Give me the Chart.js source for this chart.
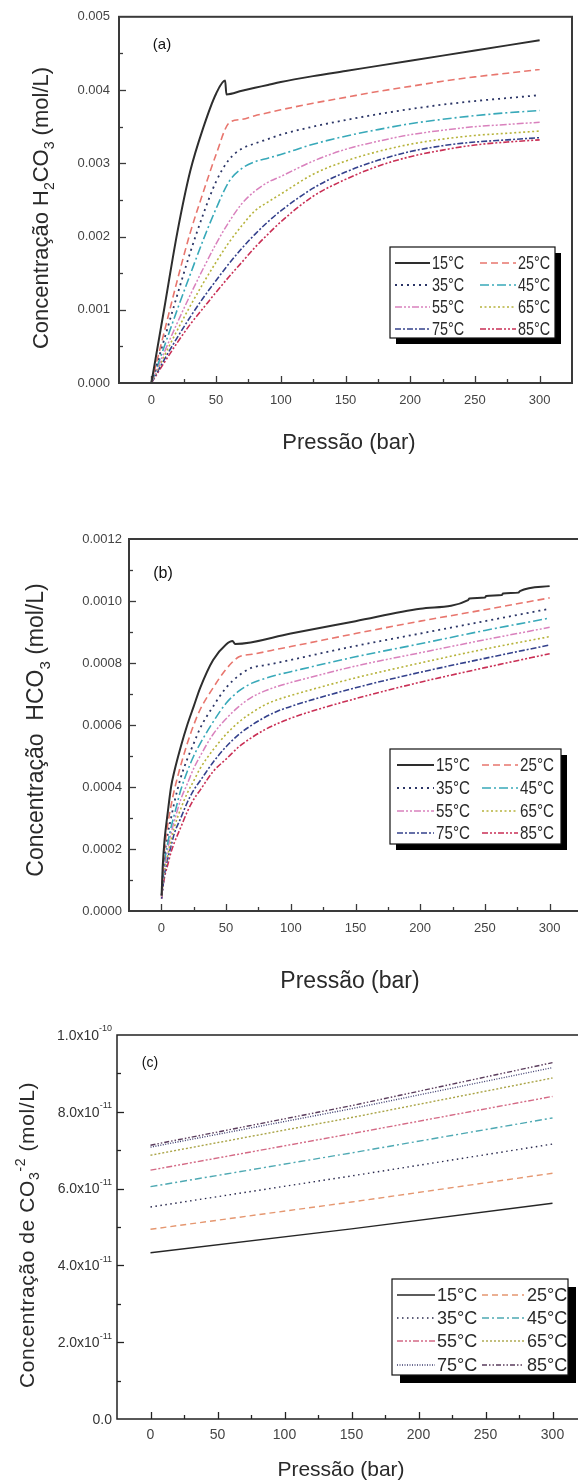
<!DOCTYPE html>
<html>
<head>
<meta charset="utf-8">
<script src="https://cdn.jsdelivr.net/npm/chart.js@4.4.1/dist/chart.umd.min.js"></script>
<style>
  html, body { margin: 0; padding: 0; background: #fff; }
  body { width: 578px; height: 1482px; overflow: hidden; position: relative; }
  canvas { position: absolute; left: 0; }
</style>
</head>
<body>
<canvas id="chartA" width="578" height="470" style="top:0"></canvas>
<canvas id="chartB" width="600" height="530" style="top:470px"></canvas>
<canvas id="chartC" width="600" height="482" style="top:1000px"></canvas>
<script>
// legend labels
const temps = ['15°C', '25°C', '35°C', '45°C', '55°C', '65°C', '75°C', '85°C'];

// x tick values shared by the three panels
const xTicks = [0, 50, 100, 150, 200, 250, 300];

// (a) H2CO3 (mol/L) vs pressure (bar)
const pressA15 = [0, 10, 20, 30, 40, 50, 57, 58, 70, 80, 90, 100, 125, 150, 175, 200, 225, 250, 275, 300];
const pressA = [0, 10, 20, 30, 40, 50, 60, 70, 80, 90, 100, 125, 150, 175, 200, 225, 250, 275, 300];
const h2co3_15 = [0, 0.00102, 0.00205, 0.00289, 0.00348, 0.00395, 0.00413, 0.00394, 0.00399, 0.00403, 0.00407, 0.00411, 0.00419, 0.00426, 0.00433, 0.00440, 0.00447, 0.00454, 0.00461, 0.00468];
const h2co3_25 = [0, 0.00070, 0.00140, 0.00205, 0.00260, 0.00312, 0.00355, 0.00360, 0.00365, 0.00369, 0.00373, 0.00382, 0.00390, 0.00398, 0.00405, 0.00412, 0.00418, 0.00423, 0.00428];
const h2co3_35 = [0, 0.00060, 0.00120, 0.00178, 0.00230, 0.00275, 0.00305, 0.00320, 0.00327, 0.00333, 0.00339, 0.00350, 0.00359, 0.00367, 0.00374, 0.00380, 0.00385, 0.00389, 0.00393];
const h2co3_45 = [0, 0.00050, 0.00100, 0.00148, 0.00195, 0.00238, 0.00275, 0.00293, 0.00302, 0.00307, 0.00312, 0.00326, 0.00337, 0.00346, 0.00354, 0.00360, 0.00365, 0.00369, 0.00372];
const h2co3_55 = [0, 0.00042, 0.00082, 0.00120, 0.00156, 0.00190, 0.00220, 0.00245, 0.00262, 0.00274, 0.00282, 0.00303, 0.00319, 0.00330, 0.00339, 0.00345, 0.00350, 0.00353, 0.00356];
const h2co3_65 = [0, 0.00037, 0.00072, 0.00105, 0.00136, 0.00165, 0.00192, 0.00215, 0.00235, 0.00247, 0.00258, 0.00285, 0.00303, 0.00316, 0.00326, 0.00333, 0.00338, 0.00341, 0.00344];
const h2co3_75 = [0, 0.00032, 0.00062, 0.00090, 0.00116, 0.00140, 0.00163, 0.00184, 0.00203, 0.00220, 0.00235, 0.00266, 0.00288, 0.00304, 0.00316, 0.00324, 0.00329, 0.00332, 0.00335];
const h2co3_85 = [0, 0.00028, 0.00055, 0.00080, 0.00102, 0.00124, 0.00145, 0.00165, 0.00185, 0.00203, 0.00220, 0.00255, 0.00278, 0.00296, 0.00309, 0.00318, 0.00325, 0.00329, 0.00332];

// (b) HCO3 (mol/L) vs pressure (bar)
const pressB15 = [0.2, 1, 2.5, 5, 7.5, 10, 15, 20, 25, 30, 40, 50, 55, 57, 100, 150, 200, 237, 238, 250, 251, 263, 264, 276, 277, 300];
const pressB = [0.2, 1, 2.5, 5, 7.5, 10, 15, 20, 25, 30, 40, 50, 60, 70, 80, 90, 100, 150, 200, 250, 300];
const hco3_15 = [0.00005, 0.00014, 0.00023, 0.00032, 0.00040, 0.00045, 0.00053, 0.00060, 0.00066, 0.00072, 0.00081, 0.00086, 0.000871, 0.000861, 0.000895, 0.000935, 0.000975, 0.001003, 0.001008, 0.001011, 0.001016, 0.001019, 0.001024, 0.001027, 0.001032, 0.001048];
const hco3_25 = [0.00005, 0.00012, 0.00020, 0.00028, 0.00034, 0.00039, 0.00047, 0.00054, 0.00060, 0.00065, 0.00072, 0.00078, 0.00082, 0.000828, 0.000836, 0.000845, 0.000853, 0.000895, 0.000935, 0.000972, 0.001010];
const hco3_35 = [0.00005, 0.00011, 0.00018, 0.00025, 0.00030, 0.00035, 0.00043, 0.00049, 0.00054, 0.00059, 0.00066, 0.00072, 0.00076, 0.000785, 0.000793, 0.000801, 0.000810, 0.000855, 0.000895, 0.000935, 0.000975];
const hco3_45 = [0.00005, 0.00010, 0.00016, 0.00022, 0.00027, 0.00031, 0.00039, 0.00045, 0.00050, 0.00054, 0.00061, 0.00067, 0.00071, 0.000735, 0.000750, 0.000762, 0.000772, 0.000820, 0.000862, 0.000905, 0.000945];
const hco3_55 = [0.000045, 0.00009, 0.00014, 0.00020, 0.00025, 0.00029, 0.00036, 0.00041, 0.00046, 0.00050, 0.00057, 0.00062, 0.00066, 0.00069, 0.00071, 0.000725, 0.000737, 0.00079, 0.000833, 0.000875, 0.000915];
const hco3_65 = [0.000045, 0.00008, 0.00013, 0.00018, 0.00023, 0.00027, 0.00033, 0.00038, 0.00042, 0.00046, 0.00052, 0.00057, 0.00061, 0.00064, 0.000665, 0.000682, 0.000695, 0.000752, 0.00080, 0.000845, 0.000885];
const hco3_75 = [0.00004, 0.00007, 0.00012, 0.00017, 0.00021, 0.00025, 0.00030, 0.00035, 0.00039, 0.00042, 0.00048, 0.00053, 0.00057, 0.00060, 0.000625, 0.000645, 0.00066, 0.00072, 0.00077, 0.000815, 0.000858];
const hco3_85 = [0.00004, 0.00007, 0.00011, 0.00015, 0.00019, 0.00022, 0.00027, 0.00032, 0.00036, 0.00039, 0.00045, 0.00049, 0.00053, 0.00056, 0.000585, 0.000605, 0.000622, 0.000685, 0.000738, 0.000785, 0.00083];

// (c) CO3-2 (mol/L) vs pressure (bar)
const pressC = [0, 150, 300];
const co3_15 = [4.33e-11, 4.95e-11, 5.62e-11];
const co3_25 = [4.94e-11, 5.65e-11, 6.40e-11];
const co3_35 = [5.52e-11, 6.33e-11, 7.16e-11];
const co3_45 = [6.05e-11, 6.93e-11, 7.84e-11];
const co3_55 = [6.48e-11, 7.43e-11, 8.40e-11];
const co3_65 = [6.87e-11, 7.85e-11, 8.88e-11];
const co3_75 = [7.08e-11, 8.08e-11, 9.15e-11];
const co3_85 = [7.13e-11, 8.16e-11, 9.28e-11];

// y tick values for (c)
const yTicksC = [0, 2e-11, 4e-11, 6e-11, 8e-11, 1e-10];
const yTickTextC = [['0.0', ''], ['2.0x10', '-11'], ['4.0x10', '-11'], ['6.0x10', '-11'], ['8.0x10', '-11'], ['1.0x10', '-10']];

// line styles
const colorsAB = ['#2e2e2e', '#e8766e', '#2b3566', '#38a9b9', '#d981bd', '#b7b33c', '#34418c', '#c92f55'];
const dashesAB = [[], [7, 4], [2, 4], [9, 3, 2, 3], [7, 2, 2, 2, 2, 2], [2, 2.5], [6, 2, 2, 2], [6, 2, 2, 2, 2, 2]];
const widthsAB = [2, 1.6, 1.8, 1.6, 1.5, 1.6, 1.6, 1.6];
const colorsC = ['#262626', '#e59770', '#2a2a4e', '#4ea9b3', '#d46a86', '#aaa447', '#3c3c6e', '#5a3c5c'];
const dashesC = [[], [6, 4], [1.5, 3.5], [7, 3, 2, 3], [6, 2, 2, 2, 2, 2], [2, 2], [1, 1.5], [5, 2, 1.5, 2, 1.5, 2]];

const FONT = "'Liberation Sans', Arial, sans-serif";

function series(xs, ys) {
  return xs.map((x, i) => ({ x: x, y: ys[i] }));
}

function buildSets(pairs, colors, dashes, widths, smooth) {
  return pairs.map((p, i) => ({
    label: temps[i],
    data: series(p[0], p[1]),
    borderColor: colors[i],
    borderDash: dashes[i],
    borderWidth: widths ? widths[i] : 1.4,
    pointRadius: 0,
    fill: false,
    cubicInterpolationMode: smooth ? 'monotone' : 'default',
    tension: 0
  }));
}

function drawRich(ctx, parts, cx, cy, size, rot, spacing) {
  ctx.save();
  ctx.translate(cx, cy);
  if (rot) ctx.rotate(-Math.PI / 2);
  ctx.textBaseline = 'alphabetic';
  ctx.textAlign = 'left';
  if (spacing) ctx.letterSpacing = spacing + 'px';
  const fontFor = p => (p.sub || p.sup ? Math.round(size * 0.65) : size) + 'px ' + FONT;
  let w = 0;
  parts.forEach(p => { ctx.font = fontFor(p); w += ctx.measureText(p.t).width; });
  let x = -w / 2;
  const base = size * 0.36;
  parts.forEach(p => {
    ctx.font = fontFor(p);
    const dy = p.sub ? size * 0.28 : (p.sup ? -size * 0.42 : 0);
    ctx.fillText(p.t, x, base + dy);
    x += ctx.measureText(p.t).width;
  });
  ctx.restore();
}

function deco(cfg) {
  return {
    id: 'deco',
    afterDraw(chart) {
      const ctx = chart.ctx, a = chart.chartArea, xs = chart.scales.x, ys = chart.scales.y;
      ctx.save();
      ctx.strokeStyle = cfg.frameColor;
      ctx.lineWidth = cfg.frameWidth;
      ctx.strokeRect(a.left, a.top, a.right - a.left, a.bottom - a.top);

      // inward ticks
      ctx.lineWidth = 1.3;
      for (let v = 0; v <= 300; v += 25) {
        const px = Math.round(xs.getPixelForValue(v)) + 0.5;
        const len = v % 50 === 0 ? 7 : 4;
        ctx.beginPath(); ctx.moveTo(px, a.bottom); ctx.lineTo(px, a.bottom - len); ctx.stroke();
      }
      const n = Math.round(ys.max / cfg.yMinor);
      for (let i = 1; i < n; i++) {
        const py = Math.round(ys.getPixelForValue(i * cfg.yMinor)) + 0.5;
        const len = i % 2 === 0 ? 7 : 4;
        ctx.beginPath(); ctx.moveTo(a.left, py); ctx.lineTo(a.left + len, py); ctx.stroke();
      }

      // hand-drawn y labels with superscript (chart c)
      if (cfg.yLabels) {
        ctx.fillStyle = '#333';
        ctx.textBaseline = 'middle';
        cfg.yLabels.values.forEach((v, i) => {
          const py = ys.getPixelForValue(v);
          const [main, sup] = cfg.yLabels.text[i];
          ctx.font = '14px ' + FONT;
          const w1 = ctx.measureText(main).width;
          ctx.font = '9px ' + FONT;
          const w2 = ctx.measureText(sup).width;
          const right = a.left - 5;
          ctx.font = '14px ' + FONT;
          ctx.fillText(main, right - w1 - w2, py + 1);
          ctx.font = '9px ' + FONT;
          ctx.fillText(sup, right - w2, py - 6);
        });
      }

      // legend box with shadow
      const L = cfg.legend;
      ctx.fillStyle = '#000';
      ctx.fillRect(L.x + L.sh, L.y + L.sh, L.w, L.h);
      ctx.fillStyle = '#fff';
      ctx.fillRect(L.x, L.y, L.w, L.h);
      ctx.strokeStyle = '#111';
      ctx.lineWidth = 1.2;
      ctx.strokeRect(L.x, L.y, L.w, L.h);
      chart.data.datasets.forEach((ds, i) => {
        const c = L.cols[i % 2], y = L.rows[Math.floor(i / 2)];
        ctx.strokeStyle = ds.borderColor;
        ctx.lineWidth = ds.borderWidth;
        ctx.setLineDash(ds.borderDash || []);
        ctx.beginPath(); ctx.moveTo(c[0], y); ctx.lineTo(c[1], y); ctx.stroke();
        ctx.setLineDash([]);
        ctx.save();
        ctx.translate(c[2], y);
        ctx.scale(L.squeeze, 1);
        ctx.font = L.size + 'px ' + FONT;
        ctx.fillStyle = '#2a2a2a';
        ctx.textBaseline = 'middle';
        ctx.fillText(ds.label, 0, 1);
        ctx.restore();
      });

      // axis titles and panel tag
      ctx.fillStyle = '#2a2a2a';
      drawRich(ctx, cfg.xTitle.parts, cfg.xTitle.x, cfg.xTitle.y, cfg.xTitle.size, false, 0);
      drawRich(ctx, cfg.yTitle.parts, cfg.yTitle.x, cfg.yTitle.y, cfg.yTitle.size, true, cfg.yTitle.spacing || 0);
      ctx.fillStyle = '#111';
      drawRich(ctx, [{ t: cfg.tag.t }], cfg.tag.x, cfg.tag.y, cfg.tag.size, false, 0);
      ctx.restore();
    }
  };
}

function makeChart(id, datasets, cfg) {
  const pad = { left: 0, top: 0, right: 0, bottom: 0 };
  const canvas = document.getElementById(id);
  const H = canvas.height;
  const chart = new Chart(canvas, {
    type: 'line',
    data: { datasets: datasets },
    options: {
      responsive: false,
      animation: false,
      devicePixelRatio: 1,
      layout: { padding: pad },
      plugins: { legend: { display: false }, tooltip: { enabled: false } },
      scales: {
        x: {
          type: 'linear', min: -25, max: 325,
          grid: { display: false, drawTicks: false },
          border: { display: false },
          afterBuildTicks: s => { s.ticks = xTicks.map(v => ({ value: v })); },
          ticks: {
            autoSkip: false, maxRotation: 0,
            padding: cfg.xPad, color: '#444', font: { family: FONT, size: cfg.xFont },
            callback: v => String(v)
          },
          afterFit: s => { s.height = H - cfg.area.bottom; }
        },
        y: {
          type: 'linear', min: 0, max: cfg.yMax,
          grid: { display: false, drawTicks: false },
          border: { display: false },
          ticks: {
            display: !cfg.yLabels,
            stepSize: cfg.yStep, padding: cfg.yPad, color: '#444',
            font: { family: FONT, size: 13 },
            callback: v => v.toFixed(cfg.yDigits)
          },
          afterFit: s => { s.width = cfg.area.left; }
        }
      }
    },
    plugins: [deco(cfg)]
  });
  // nudge padding so the plot area lands where the reference has it
  for (let k = 0; k < 2; k++) {
    const a = chart.chartArea;
    pad.left += cfg.area.left - a.left;
    pad.top += cfg.area.top - a.top;
    pad.right += a.right - cfg.area.right;
    pad.bottom += a.bottom - cfg.area.bottom;
    chart.update('none');
  }
  return chart;
}

makeChart('chartA', buildSets([
  [pressA15, h2co3_15], [pressA, h2co3_25], [pressA, h2co3_35], [pressA, h2co3_45],
  [pressA, h2co3_55], [pressA, h2co3_65], [pressA, h2co3_75], [pressA, h2co3_85]
], colorsAB, dashesAB, widthsAB, true), {
  area: { left: 119, top: 20, right: 572, bottom: 383 },
  yMax: 0.005, yStep: 0.001, yMinor: 0.0005, yDigits: 3, yPad: 9, xPad: 10, xFont: 13,
  frameColor: '#3a3a3a', frameWidth: 2,
  legend: { x: 390, y: 247, w: 165, h: 91, sh: 6, rows: [263, 285, 307, 329],
    cols: [[395, 430, 432], [480, 516, 518]], size: 18, squeeze: 0.8 },
  xTitle: { parts: [{ t: 'Pressão (bar)' }], x: 349, y: 441, size: 22 },
  yTitle: { parts: [{ t: 'Concentração H' }, { t: '2', sub: 1 }, { t: 'CO' }, { t: '3', sub: 1 }, { t: ' (mol/L)' }], x: 40, y: 208, size: 22 },
  tag: { t: '(a)', x: 162, y: 44, size: 15 }
});

makeChart('chartB', buildSets([
  [pressB15, hco3_15], [pressB, hco3_25], [pressB, hco3_35], [pressB, hco3_45],
  [pressB, hco3_55], [pressB, hco3_65], [pressB, hco3_75], [pressB, hco3_85]
], colorsAB, dashesAB, widthsAB, true), {
  area: { left: 129, top: 69, right: 582, bottom: 441 },
  yMax: 0.0012, yStep: 0.0002, yMinor: 0.0001, yDigits: 4, yPad: 7, xPad: 10, xFont: 13,
  frameColor: '#3a3a3a', frameWidth: 2,
  legend: { x: 390, y: 279, w: 171, h: 95, sh: 6, rows: [295, 318, 341, 363],
    cols: [[397, 434, 436], [482, 518, 520]], size: 19, squeeze: 0.8 },
  xTitle: { parts: [{ t: 'Pressão (bar)' }], x: 350, y: 510, size: 23 },
  yTitle: { parts: [{ t: 'Concentração  HCO' }, { t: '3', sub: 1 }, { t: ' (mol/L)' }], x: 35, y: 260, size: 23 },
  tag: { t: '(b)', x: 163, y: 102, size: 16 }
});

makeChart('chartC', buildSets([
  [pressC, co3_15], [pressC, co3_25], [pressC, co3_35], [pressC, co3_45],
  [pressC, co3_55], [pressC, co3_65], [pressC, co3_75], [pressC, co3_85]
], colorsC, dashesC, null, false), {
  area: { left: 117, top: 35, right: 586, bottom: 419 },
  yMax: 1e-10, yStep: 2e-11, yMinor: 1e-11, yDigits: 1, yPad: 5, xPad: 8, xFont: 14,
  yLabels: { values: yTicksC, text: yTickTextC },
  frameColor: '#222', frameWidth: 1.5,
  legend: { x: 392, y: 279, w: 176, h: 96, sh: 8, rows: [295, 318, 341, 365],
    cols: [[397, 435, 437], [482, 524, 527]], size: 19, squeeze: 0.95 },
  xTitle: { parts: [{ t: 'Pressão (bar)' }], x: 341, y: 468, size: 21 },
  yTitle: { parts: [{ t: 'Concentração de CO' }, { t: '3', sub: 1 }, { t: '-2', sup: 1 }, { t: ' (mol/L)' }], x: 26, y: 235, size: 21, spacing: 0.6 },
  tag: { t: '(c)', x: 150, y: 62, size: 14 }
});
</script>
</body>
</html>
